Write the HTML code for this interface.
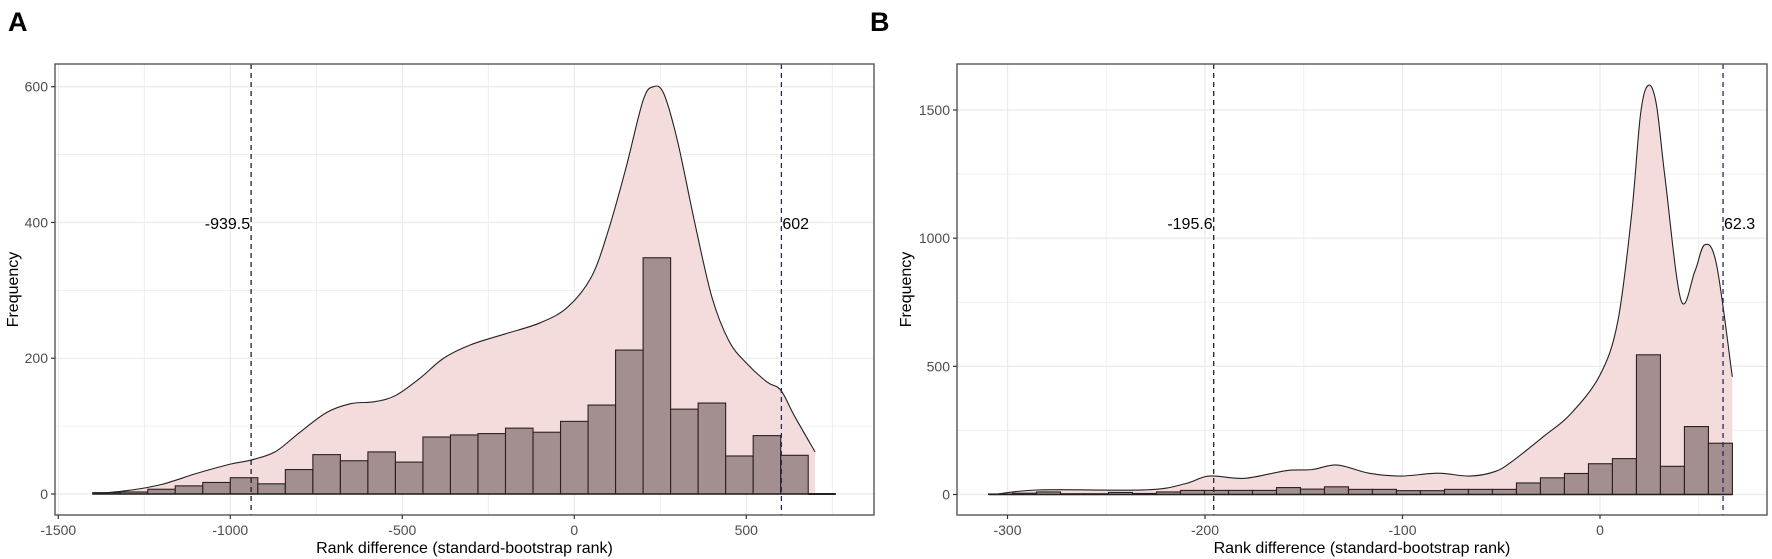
<!DOCTYPE html>
<html><head><meta charset="utf-8">
<style>
body{margin:0;background:#fff;}
svg{display:block;font-family:"Liberation Sans Narrow","Liberation Sans",sans-serif;}
.tick{font-size:14px;fill:#4d4d4d;}
.title{font-size:16px;fill:#000;}
.ann{font-size:16px;fill:#000;}
</style></head>
<body>
<svg id="chart" width="1772" height="559" viewBox="0 0 1772 559" xmlns="http://www.w3.org/2000/svg">
<text x="8" y="31" font-family="Liberation Sans" font-weight="bold" font-size="27">A</text>
<text x="870" y="31" font-family="Liberation Sans" font-weight="bold" font-size="27">B</text>
</svg>
<script>
// Panel A data
const aBinCenters = [-1360,-1280,-1200,-1120,-1040,-960,-880,-800,-720,-640,-560,-480,-400,-320,-240,-160,-80,0,80,160,240,320,400,480,560,640,720];
const aCounts = [2,3,7,12,17,24,15,36,58,49,62,47,84,87,89,97,91,107,131,212,348,125,134,56,86,57,0];
const aDensX = [-1400,-1300,-1200,-1100,-1000,-940,-870,-800,-720,-650,-580,-520,-450,-380,-300,-200,-100,-20,50,100,150,200,230,260,300,350,400,450,500,560,600,640,700];
const aDensY = [0,5,14,30,44,50,62,90,120,133,136,145,170,200,220,236,252,275,320,390,480,580,600,590,520,400,290,225,193,165,153,115,62];
const aXTicks = [-1500,-1000,-500,0,500];
const aYTicks = [0,200,400,600];
const aVLines = [-939.5, 602];
const aVLabels = ["-939.5","602"];
// Panel B data
const bBinStart = -309.6, bBinWidth = 12.15;
const bCounts = [2,5,10,3,3,8,4,10,16,16,16,16,27,21,30,20,20,15,15,20,20,20,45,65,82,120,140,545,110,265,200];
const bDensX = [-307,-284,-230,-210,-198,-180,-159,-146,-133,-117,-101,-82,-66,-53,-44,-28,-15,0,9,16,20.5,24.4,28.5,33,41,48,53,59,67];
const bDensY = [0,18,18,42,72,63,93,97,115,83,72,83,72,90,132,230,313,466,675,1092,1482,1596,1524,1231,758,870,974,897,459];
const bXTicks = [-300,-200,-100,0];
const bYTicks = [0,500,1000,1500];
const bVLines = [-195.6, 62.3];
const bVLabels = ["-195.6","62.3"];

const NS="http://www.w3.org/2000/svg";
const svg=document.getElementById('chart');
function mk(tag,attrs,parent){const e=document.createElementNS(NS,tag);for(const k in attrs)e.setAttribute(k,attrs[k]);(parent||svg).appendChild(e);return e;}
function spline(pts){
  let d=`M${pts[0][0]},${pts[0][1]}`;
  for(let i=0;i<pts.length-1;i++){
    const p0=pts[Math.max(0,i-1)],p1=pts[i],p2=pts[i+1],p3=pts[Math.min(pts.length-1,i+2)];
    const c1x=p1[0]+(p2[0]-p0[0])/6,c1y=p1[1]+(p2[1]-p0[1])/6;
    const c2x=p2[0]-(p3[0]-p1[0])/6,c2y=p2[1]-(p3[1]-p1[1])/6;
    d+=` C${c1x},${c1y} ${c2x},${c2y} ${p2[0]},${p2[1]}`;
  }
  return d;
}
function panel(cfg){
  const g=mk('g',{});
  
  
  const X=v=>cfg.x0+(v-cfg.xv0)*cfg.xs, Y=v=>cfg.y0-v*cfg.ys;
  // grid
  cfg.xGrid.forEach((v,i)=>{const l=mk('line',{x1:X(v),x2:X(v),y1:cfg.top,y2:cfg.bottom,stroke:'#ebebeb','stroke-width':(i%2?0.8:1.3)},g);});
  cfg.yGrid.forEach((v,i)=>{const l=mk('line',{x1:cfg.left,x2:cfg.right,y1:Y(v),y2:Y(v),stroke:'#ebebeb','stroke-width':(i%2?0.8:1.3)},g);});
  // density
  const pts=cfg.dx.map((v,i)=>[X(v),Y(cfg.dy[i])]);
  const line=spline(pts);
  const area=mk('path',{d:line+` L${pts[pts.length-1][0]},${Y(0)} L${pts[0][0]},${Y(0)} Z`,fill:'#f4dcdd',stroke:'none'},g);
  
  // bars
  cfg.bins.forEach(b=>{
    if(b.c<=0){const l=mk('line',{x1:X(b.l),x2:X(b.r),y1:Y(0),y2:Y(0),stroke:'#222','stroke-width':2},g);return;}
    const r=mk('rect',{x:X(b.l),y:Y(b.c),width:X(b.r)-X(b.l),height:Y(0)-Y(b.c),fill:'#a38f8f',stroke:'#2b1f1f','stroke-width':1.1},g);
    
  });
  const bl=mk('line',{x1:X(cfg.bins[0].l),x2:X(cfg.bins[cfg.bins.length-1].r),y1:Y(0),y2:Y(0),stroke:'#222','stroke-width':1.6},g);
  
  const dl=mk('path',{d:line,fill:'none',stroke:'#222','stroke-width':1.1},g);
  
  // vlines
  cfg.vl.forEach((v,i)=>{
    const l=mk('line',{x1:X(v),x2:X(v),y1:cfg.top,y2:cfg.bottom,stroke:i?'#2a2a5a':'#222','stroke-width':1.3,'stroke-dasharray':'5,4'},g);
    
    const t=mk('text',{x:X(v)+(i?1:-1),y:cfg.labY,'text-anchor':i?'start':'end',class:'ann'},g);
    t.textContent=cfg.vlab[i];
    
  });
  // frame
  const f=mk('rect',{x:cfg.left,y:cfg.top,width:cfg.right-cfg.left,height:cfg.bottom-cfg.top,fill:'none',stroke:'#555','stroke-width':1.4},g);
  
  cfg.xt.forEach(v=>{
    mk('line',{x1:X(v),x2:X(v),y1:cfg.bottom,y2:cfg.bottom+4,stroke:'#333','stroke-width':1.2},g);
    const t=mk('text',{x:X(v),y:cfg.bottom+20,'text-anchor':'middle',class:'tick'},g);
    t.textContent=v;
  });
  cfg.yt.forEach(v=>{
    mk('line',{x1:cfg.left-4,x2:cfg.left,y1:Y(v),y2:Y(v),stroke:'#333','stroke-width':1.2},g);
    const t=mk('text',{x:cfg.left-7,y:Y(v)+5,'text-anchor':'end',class:'tick'},g);
    t.textContent=v;
  });
  const xt=mk('text',{x:(cfg.left+cfg.right)/2,y:553,'text-anchor':'middle',class:'title'},g);
  xt.textContent='Rank difference (standard-bootstrap rank)';
  
  const yt=mk('text',{x:0,y:0,'text-anchor':'middle',class:'title',transform:`translate(${cfg.ytX},${(cfg.top+cfg.bottom)/2}) rotate(-90)`,'font-family':'Liberation Sans','font-size':'14'},g);
  yt.textContent='Frequency';
  
}
panel({name:'panel-a',left:55,right:874,top:64,bottom:515,x0:574.3,xv0:0,xs:172/500,y0:494,ys:(494-86.7)/600,
  xGrid:[-1500,-1250,-1000,-750,-500,-250,0,250,500,750],yGrid:[0,100,200,300,400,500,600],
  dx:aDensX,dy:aDensY,bins:aBinCenters.map((c,i)=>({l:c-40,r:c+40,c:aCounts[i]})),
  vl:aVLines,vlab:aVLabels,labY:229,xt:aXTicks,yt:aYTicks,ytX:18});
panel({name:'panel-b',left:957,right:1767,top:64,bottom:515,x0:1600,xv0:0,xs:197.5/100,y0:494.5,ys:(494.5-110)/1500,
  xGrid:[-300,-250,-200,-150,-100,-50,0,50],yGrid:[0,250,500,750,1000,1250,1500],
  dx:bDensX,dy:bDensY,bins:bCounts.map((c,i)=>({l:bBinStart+i*bBinWidth,r:bBinStart+(i+1)*bBinWidth,c:c})),
  vl:bVLines,vlab:bVLabels,labY:229,xt:bXTicks,yt:bYTicks,ytX:911});
</script>
</body></html>
